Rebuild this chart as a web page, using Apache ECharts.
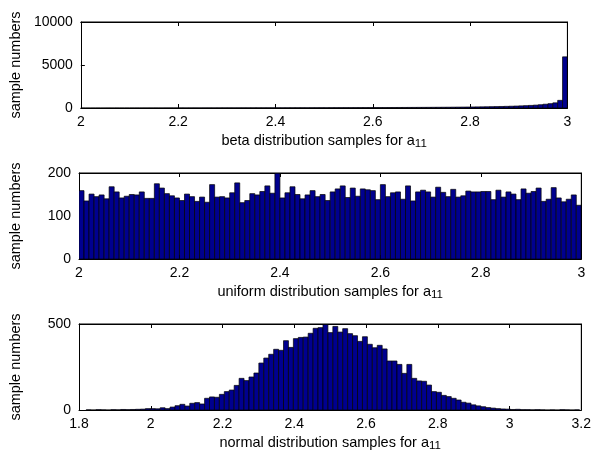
<!DOCTYPE html>
<html>
<head>
<meta charset="utf-8">
<script src="https://cdn.jsdelivr.net/npm/echarts@6/dist/echarts.min.js"></script>
<style>
  html, body { margin: 0; padding: 0; background: #fff; }
  #main { width: 609px; height: 456px; }
</style>
</head>
<body>
<div id="main"></div>
<script>
// histogram counts, 100 bins per panel
const betaCounts = [
  2, 3, 2, 4, 3, 5, 4, 6, 5, 6,
  7, 8, 7, 9, 8, 10, 9, 11, 12, 11,
  13, 12, 14, 15, 14, 16, 17, 16, 18, 19,
  20, 19, 21, 22, 23, 22, 24, 25, 26, 27,
  28, 27, 29, 30, 31, 33, 32, 34, 35, 37,
  36, 38, 40, 41, 43, 42, 45, 47, 48, 50,
  52, 54, 53, 57, 59, 61, 63, 66, 68, 71,
  74, 77, 80, 84, 88, 92, 97, 102, 108, 114,
  120, 128, 136, 145, 155, 166, 178, 192, 208, 226,
  248, 272, 300, 335, 380, 440, 505, 600, 890, 5950
];
const uniformCounts = [
  159, 135, 151, 145, 149, 140, 168, 156, 142, 146,
  150, 149, 156, 141, 141, 175, 165, 152, 147, 142,
  136, 151, 145, 134, 144, 132, 173, 144, 145, 142,
  154, 177, 131, 136, 152, 149, 157, 170, 153, 200,
  142, 154, 168, 150, 140, 149, 159, 145, 150, 136,
  156, 163, 170, 143, 165, 146, 163, 161, 159, 138,
  173, 145, 154, 156, 139, 170, 135, 156, 160, 156,
  144, 167, 155, 145, 162, 144, 147, 158, 156, 156,
  157, 157, 138, 160, 144, 156, 151, 138, 163, 153,
  157, 165, 134, 139, 166, 142, 133, 139, 149, 125
];
const normalCounts = [
  1, 0, 2, 1, 0, 2, 1, 3, 2, 3,
  4, 5, 8, 8, 7, 13, 8, 17, 25, 33,
  23, 39, 43, 35, 68, 76, 74, 91, 107, 116,
  143, 184, 171, 192, 215, 273, 302, 324, 353, 347,
  403, 364, 415, 422, 424, 446, 475, 479, 498, 450,
  486, 453, 473, 444, 432, 399, 426, 382, 362, 376,
  355, 285, 285, 265, 213, 265, 184, 169, 167, 145,
  107, 103, 85, 78, 68, 58, 45, 40, 30, 24,
  19, 14, 11, 8, 6, 5, 3, 4, 2, 2,
  1, 2, 1, 0, 1, 0, 2, 1, 0, 1
];

// bin layout of each histogram
const betaBin = { start: 2, width: 0.01 };
const uniformBin = { start: 2, width: 0.01 };
const normalBin = { start: 1.82, width: 0.01375 };

// tick values
const betaXTicks = [2, 2.2, 2.4, 2.6, 2.8, 3];
const uniformXTicks = [2, 2.2, 2.4, 2.6, 2.8, 3];
const normalXTicks = [1.8, 2, 2.2, 2.4, 2.6, 2.8, 3, 3.2];
const betaYTicks = [0, 5000, 10000];
const uniformYTicks = [0, 100, 200];
const normalYTicks = [0, 500];

const xLabels = ['beta', 'uniform', 'normal'];
const FONT = 'Liberation Sans, Arial, Helvetica, sans-serif';

const panels = [
  { counts: betaCounts, bin: betaBin, xt: betaXTicks, yt: betaYTicks, top: 22 },
  { counts: uniformCounts, bin: uniformBin, xt: uniformXTicks, yt: uniformYTicks, top: 173 },
  { counts: normalCounts, bin: normalBin, xt: normalXTicks, yt: normalYTicks, top: 324 }
];

const last = a => a[a.length - 1];

function histItem(p) {
  return function (params, api) {
    const x0 = api.value(0);
    const p0 = api.coord([x0, api.value(1)]);
    const p1 = api.coord([x0 + p.bin.width, 0]);
    return {
      type: 'rect',
      shape: { x: p0[0], y: p0[1], width: p1[0] - p0[0], height: p1[1] - p0[1] },
      style: { fill: '#00008f', stroke: '#000', lineWidth: 0.7 }
    };
  };
}

const grid = [], xAxis = [], yAxis = [], series = [];

panels.forEach((p, i) => {
  grid.push({ left: 77, right: 10, top: p.top, height: 86 });
  const xMin = p.xt[0], xMax = last(p.xt), yMax = last(p.yt);
  // bottom x axis (index 2i) and mirrored top x axis (index 2i+1)
  xAxis.push({
    gridIndex: i, type: 'value', min: xMin, max: xMax, interval: p.xt[1] - p.xt[0],
    position: 'bottom',
    splitLine: { show: false },
    axisLine: { show: true, onZero: false, lineStyle: { color: '#000', width: 1 } },
    axisTick: { show: true, inside: true, length: 4, lineStyle: { color: '#000' } },
    axisLabel: { color: '#000', fontSize: 14, fontFamily: FONT, margin: 7,
      showMinLabel: true, showMaxLabel: true, hideOverlap: false,
      formatter: v => String(Math.round(v * 10) / 10) },
    name: '{b|' + xLabels[i] + ' distribution samples for a}{s|11}',
    nameLocation: 'middle', nameGap: 24,
    nameTextStyle: {
      rich: {
        b: { fontSize: 14.5, fontFamily: FONT, color: '#000', lineHeight: 16, verticalAlign: 'top' },
        s: { fontSize: 11.5, fontFamily: FONT, color: '#000', lineHeight: 13, verticalAlign: 'bottom', padding: [8, 0, 0, 0] }
      }
    }
  });
  xAxis.push({
    gridIndex: i, type: 'value', min: xMin, max: xMax, interval: p.xt[1] - p.xt[0],
    position: 'top',
    splitLine: { show: false },
    axisLine: { show: true, onZero: false, lineStyle: { color: '#000', width: 1 } },
    axisTick: { show: true, inside: true, length: 4, lineStyle: { color: '#000' } },
    axisLabel: { show: true, color: 'rgba(0,0,0,0)', fontSize: 10 }
  });
  yAxis.push({
    gridIndex: i, type: 'value', min: 0, max: yMax, interval: p.yt[1] - p.yt[0],
    position: 'left',
    splitLine: { show: false },
    axisLine: { show: true, onZero: false, lineStyle: { color: '#000', width: 1 } },
    axisTick: { show: true, inside: true, length: 4, lineStyle: { color: '#000' } },
    axisLabel: { color: '#000', fontSize: 14, fontFamily: FONT, margin: 8, formatter: v => String(v) },
    name: 'sample numbers', nameLocation: 'middle', nameGap: 56,
    nameTextStyle: { fontSize: 14.5, fontFamily: FONT, color: '#000' }
  });
  yAxis.push({
    gridIndex: i, type: 'value', min: 0, max: yMax, interval: p.yt[1] - p.yt[0],
    position: 'right',
    splitLine: { show: false },
    axisLine: { show: true, onZero: false, lineStyle: { color: '#000', width: 1 } },
    axisTick: { show: true, inside: true, length: 4, lineStyle: { color: '#000' } },
    axisLabel: { show: true, color: 'rgba(0,0,0,0)', fontSize: 10 }
  });

  series.push({
    type: 'custom',
    xAxisIndex: 2 * i,
    yAxisIndex: 2 * i,
    clip: true,
    silent: true,
    renderItem: histItem(p),
    data: p.counts.map((c, k) => [p.bin.start + k * p.bin.width, c])
  });
  // top and right edges of the box, drawn on the mirrored axes
  series.push({
    type: 'line',
    xAxisIndex: 2 * i + 1,
    yAxisIndex: 2 * i + 1,
    silent: true,
    clip: false,
    symbol: 'none',
    lineStyle: { color: '#000', width: 1 },
    data: [[xMin, yMax], [xMax, yMax], [xMax, 0]]
  });
});

const chart = echarts.init(document.getElementById('main'));
chart.setOption({
  animation: false,
  grid: grid,
  xAxis: xAxis,
  yAxis: yAxis,
  series: series
});
</script>
</body>
</html>
